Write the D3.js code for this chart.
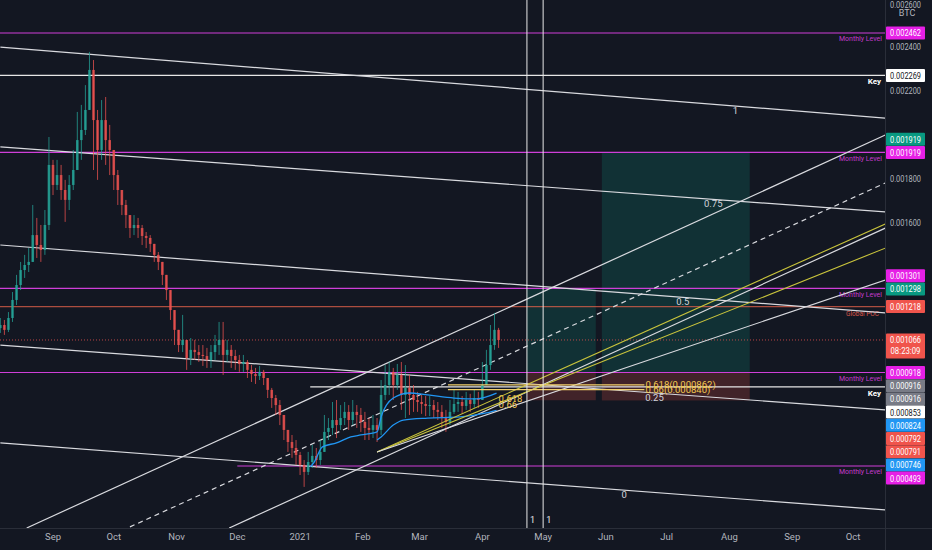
<!DOCTYPE html>
<html><head><meta charset="utf-8">
<script src="https://cdn.jsdelivr.net/npm/d3@7"></script>
<style>html,body{margin:0;padding:0;background:#131722;overflow:hidden}</style>
</head><body><svg id="c" width="932" height="550"></svg>
<script>
// ---------------- DATA (prices in micro-BTC, 1e-6 BTC) ----------------
const candleStart = "2020-08-06";          // 2-day candles
const firstOpen = 1120;
const closes = [1134,1112,1166,1248,1316,1384,1407,1421,1543,1498,
1475,1589,1862,1771,1816,1748,1703,1771,1839,1975,
2021,2112,2294,2066,1930,2066,1975,1930,1816,1748,
1680,1634,1575,1589,1575,1539,1530,1503,1453,1421,
1362,1293,1202,1112,1043,1066,984,1021,1011,998,
993,975,1011,1043,1066,998,1021,993,975,957,
966,930,911,902,921,893,839,802,770,725,
657,602,575,543,498,466,511,539,520,557,
648,666,702,679,711,739,702,739,725,693,
666,657,679,657,816,861,921,861,907,816,
848,816,793,784,775,766,770,748,739,711,
693,739,775,784,766,793,775,802,793,861,
952,1043,1112,1066];
const highs = [1166,1157,1193,1284,1362,1421,1453,1484,1680,1621,
1589,1657,1989,1885,1885,1862,1794,1816,1930,2103,
2135,2225,2376,2339,2112,2157,2171,2044,1885,1839,
1725,1703,1634,1634,1621,1589,1557,1543,1498,1466,
1421,1362,1293,1202,1089,1180,1066,1075,1066,1043,
1043,1030,1043,1089,1148,1148,1066,1043,1021,998,
998,975,952,939,948,930,893,848,816,793,
725,657,634,611,557,520,557,589,575,611,
725,711,784,793,770,784,770,793,770,757,
739,711,725,711,884,952,966,939,957,966,
952,907,861,830,816,811,811,793,784,770,
748,793,839,830,811,830,821,839,830,966,
1021,1134,1189,1121];
const lows = [1098,1089,1102,1148,1225,1293,1348,1375,1421,1439,
1421,1453,1566,1725,1748,1703,1603,1657,1748,1862,
1885,1998,2157,1839,1794,1885,1862,1816,1748,1680,
1634,1575,1530,1543,1530,1498,1484,1466,1421,1384,
1316,1248,1157,1043,1011,1011,930,952,975,966,
948,939,939,975,998,907,966,939,930,921,
921,893,875,866,884,861,802,757,725,679,
611,557,530,498,452,398,452,484,484,498,
566,611,634,620,657,679,657,679,666,648,
611,611,620,602,634,793,816,793,839,748,
711,725,739,739,730,720,720,711,702,666,
648,679,730,739,730,748,739,757,757,793,
861,930,1021,1030];

// anchored VWAP-like blue lines
const vwapUpper = [["2021-01-06",489],["2021-01-08",511],["2021-01-12",580],["2021-01-19",598],["2021-01-26",625],["2021-01-31",634],["2021-02-08",648],["2021-02-10",716],["2021-02-16",802],["2021-02-24",825],["2021-03-05",816],["2021-03-18",802],["2021-03-29",798],["2021-04-08",824]];
const vwapLower = [["2021-02-08",611],["2021-02-10",625],["2021-02-16",679],["2021-02-21",702],["2021-03-05",711],["2021-03-21",716],["2021-04-03",734],["2021-04-08",746]];

// horizontal levels
const monthlyLevels = [[2462,null],[1919,null],[1301,null],[918,null],[493,"2020-12-01"]];
const keyLevels = [[2269,null],[853,"2021-01-06"]];
const pocLevel = 1218;
const lastPrice = 1066;
const countdown = "08:23:09";

// descending fib channel
const fibChannelSpan = ["2020-08-06","2021-10-17"];
const fibChannel = [["1",2398,2075,"2021-08-04"],["0.75",1944,1648,"2021-07-24"],["0.5",1498,1189,"2021-07-09"],["0.25",1043,748,"2021-06-25"],["0",598,293,"2021-06-10"]];

// rising parallel channel [t0,p0,t1,p1,dashed]
const risingChannel = [["2020-08-19",211,"2021-10-17",1998,false],["2020-10-09",216,"2021-10-17",1780,true],["2020-11-27",211,"2021-10-17",1575,false]];

// fib fan
const fanOrigin = ["2021-02-08",557];
const fanEnds = [["2021-10-17",1594,"y"],["2021-10-17",1484,"y"],["2021-10-17",1339,"w"]];
const fanLabels = [["0.618","2021-04-09",798],["0.66","2021-04-09",771]];

// fib retracement
const fibRetrSpan = ["2021-03-15","2021-06-20"];
const fibRetr = [["0.618",862],["0.66",840]];

// long position tools [from,to,entry,target,stop]
const positions = [["2021-04-23","2021-05-27",916,1298,792],["2021-05-30","2021-08-11",916,1919,791]];

// vertical lines
const verticals = [["2021-04-23","1"],["2021-05-01","1"]];

// axis ticks
const yTicks = [2600,2400,2200,2000,1800,1600,1400,1200,1000,800,600,400];
const monthTicks = ["2020-09-01","2020-10-01","2020-11-01","2020-12-01","2021-01-01","2021-02-01","2021-03-01","2021-04-01","2021-05-01","2021-06-01","2021-07-01","2021-08-01","2021-09-01","2021-10-01"];
const monthNames = ["Sep","Oct","Nov","Dec","2021","Feb","Mar","Apr","May","Jun","Jul","Aug","Sep","Oct"];

// price-scale labels (drawing order = layout priority)
const axisLabelValues = [1066,2462,2269,1919,1919,1218,1298,1301,918,916,916,853,824,792,791,746,493];
const axisLabelKinds  = ["last","mag","white","mag","teal","red","teal","mag","mag","gray","gray","white","blue","red","red","blue","mag"];

// ---------------- DRAWING ----------------
const W=932,H=550,PR=885,PB=528;
const FONT="Roboto, 'Liberation Sans', Arial, sans-serif";
const parse=d3.timeParse("%Y-%m-%d");
const P=v=>v*1e-6;
const x=d3.scaleTime().domain([new Date(2020,8,1),new Date(2021,9,1)]).range([53,853]);
const y=d3.scaleLinear().domain([0.000211,0.002612]).range([PB,0]);
const X=t=>x(parse(t)), Y=p=>y(P(p));
const MAG_LINE="#cf3fd8", MAG="#e61fe6", TEAL="#089981", RED="#f0544c", GRAY="#787b86", BLUE="#2196f3";
const YEL="#c9c43c", GOLD="#f3c94f", WHITE="#d9dadf";

const svg=d3.select("#c");
svg.append("rect").attr("width",W).attr("height",H).attr("fill","#131722");
svg.append("defs").append("clipPath").attr("id","plot").append("rect").attr("x",0).attr("y",0).attr("width",PR).attr("height",PB);
const g=svg.append("g").attr("clip-path","url(#plot)");

function line(x1,y1,x2,y2,col,w,dash,op){
  const l=g.append("line").attr("x1",x1).attr("y1",y1).attr("x2",x2).attr("y2",y2)
   .attr("stroke",col).attr("stroke-width",w||1);
  if(dash) l.attr("stroke-dasharray",dash);
  if(op!=null) l.attr("stroke-opacity",op);
  return l;
}
function txt(par,xx,yy,s,col,size,anchor,opts){
  const t=par.append("text").attr("x",xx).attr("y",yy).text(s).attr("fill",col)
   .attr("font-size",size).attr("font-family",FONT).attr("text-anchor",anchor||"start");
  if(opts&&opts.len) t.attr("textLength",opts.len).attr("lengthAdjust","spacingAndGlyphs");
  if(opts&&opts.bold) t.attr("font-weight","bold");
  return t;
}

// position tools
positions.forEach(([f,t,e,tp,sl])=>{
  const x0=X(f),x1=X(t);
  g.append("rect").attr("x",x0).attr("width",x1-x0).attr("y",Y(tp)).attr("height",Y(e)-Y(tp)).attr("fill","rgba(8,153,129,0.2)");
  g.append("rect").attr("x",x0).attr("width",x1-x0).attr("y",Y(e)).attr("height",Y(sl)-Y(e)).attr("fill","rgba(230,80,70,0.22)");
});

// horizontal levels
monthlyLevels.forEach(([p,from])=>{
  line(from?X(from):0,Y(p),PR,Y(p),MAG_LINE,1.2);
  txt(g,882,Y(p)+8.5,"Monthly Level","#c33bcc",8,"end",{len:43});
});
keyLevels.forEach(([p,from])=>{
  line(from?X(from):0,Y(p),PR,Y(p),"#e6e6e6",1.2);
  txt(g,881,Y(p)+9,"Key","#ffffff",8,"end",{bold:true});
});
line(0,Y(pocLevel),PR,Y(pocLevel),"#e0604a",1.2,null,0.75);
txt(g,879,Y(pocLevel)+9,"Global POC","#d9564a",8,"end",{len:33});
line(0,Y(lastPrice),PR,Y(lastPrice),"#e8504f",1,"1,2",0.8);

// descending fib channel
const cx0=X(fibChannelSpan[0]), cx1=X(fibChannelSpan[1]);
fibChannel.forEach(([lv,p0,p1,lab])=>{
  const y0=Y(p0),y1=Y(p1);
  line(cx0,y0,cx1,y1,WHITE,1.2);
  const xl=X(lab), yl=y0+(y1-y0)*(xl-cx0)/(cx1-cx0);
  txt(g,xl,yl+8,lv,"#d1d4dc",9.5,"middle");
});

// rising channel
risingChannel.forEach(([t0,p0,t1,p1,d])=>{
  line(X(t0),Y(p0),X(t1),Y(p1),WHITE,1.2,d?"5,4":null);
});

// candles
const t0=parse(candleStart);
const candles=closes.map((c,i)=>{
  const o=i?closes[i-1]:firstOpen;
  return {t:d3.timeDay.offset(t0,2*i),o,c,h:Math.max(highs[i],o,c),l:Math.min(lows[i],o,c)};
});
const cg=g.append("g");
candles.forEach(d=>{
  const col=d.c>=d.o?"#26a69a":"#ef5350";
  const cx=x(d.t);
  cg.append("line").attr("x1",cx).attr("x2",cx).attr("y1",Y(d.h)).attr("y2",Y(d.l)).attr("stroke",col).attr("stroke-width",1).attr("stroke-opacity",0.75);
  const yt=Math.min(Y(d.o),Y(d.c)), hb=Math.max(1,Math.abs(Y(d.o)-Y(d.c)));
  cg.append("rect").attr("x",cx-1.3).attr("width",2.6).attr("y",yt).attr("height",hb).attr("fill",col).attr("fill-opacity",0.8);
});

// blue lines
const lg=d3.line().x(d=>X(d[0])).y(d=>Y(d[1])).curve(d3.curveMonotoneX);
[vwapUpper,vwapLower].forEach(a=>g.append("path").attr("d",lg(a)).attr("fill","none").attr("stroke",BLUE).attr("stroke-width",1.3));

// fib fan
fanEnds.forEach(([t,p,c])=>line(X(fanOrigin[0]),Y(fanOrigin[1]),X(t),Y(p),c==="y"?YEL:WHITE,1.1));
fanLabels.forEach(([r,t,p])=>txt(g,X(t),Y(p)+3,r,GOLD,9.5,"start"));

// fib retracement
fibRetr.forEach(([r,p])=>{
  line(X(fibRetrSpan[0]),Y(p),X(fibRetrSpan[1]),Y(p),"#f2d06b",1.2);
  txt(g,X(fibRetrSpan[1])+1,Y(p)+3.5,r+"("+d3.format(".6f")(P(p))+")",GOLD,9.5,"start");
});

// vertical lines
verticals.forEach(([t,s])=>{
  line(X(t),0,X(t),PB,"#e8e8e8",1);
  txt(g,X(t)+3,PB-5,s,"#e8e8e8",9,"start");
});

// ---------------- AXES ----------------
svg.append("line").attr("x1",PR+0.5).attr("x2",PR+0.5).attr("y1",0).attr("y2",H).attr("stroke","#2a2e39");
svg.append("line").attr("x1",0).attr("x2",W).attr("y1",PB+0.5).attr("y2",PB+0.5).attr("stroke","#2a2e39");
const ax=svg.append("g");
txt(ax,907,16,"BTC","#b2b5be",9,"middle");
monthTicks.forEach((m,i)=>txt(ax,X(m),540,monthNames[i],"#b2b5be",9.5,"middle"));

// price labels with collision layout
const kindStyle={mag:[MAG,"#fff"],white:["#ffffff","#131722"],teal:[TEAL,"#fff"],red:[RED,"#fff"],gray:[GRAY,"#fff"],blue:[BLUE,"#fff"],last:[RED,"#fff"]};
const placed=[];
axisLabelValues.forEach((v,i)=>{
  const kind=axisLabelKinds[i], ny=Y(v);
  const top=6.5, bot=kind==="last"?18.5:6.5, gap=0.2;
  const cands=[ny];
  placed.forEach(q=>{cands.push(q.y-q.top-gap-bot); cands.push(q.y+q.bot+gap+top);});
  const ok=c=>placed.every(q=>c+bot<=q.y-q.top+0.01||c-top>=q.y+q.bot-0.01);
  cands.sort((a,b)=>(Math.round(Math.abs(a-ny)*100)-Math.round(Math.abs(b-ny)*100))||(a-b));
  const cy=cands.find(ok);
  placed.push({y:cy,top,bot,kind,v});
});
// tick labels that are hidden behind a price label are skipped
yTicks.forEach(v=>{
  const ty=Y(v);
  const covered=placed.some(q=>ty+4>q.y-q.top && ty-4<q.y+q.bot);
  if(!covered) txt(ax,905.5,Math.max(ty+3.4,8),d3.format(".6f")(P(v)),"#b2b5be",9.5,"middle",{len:31});
});
placed.forEach(q=>{
  const [bg,fg]=kindStyle[q.kind];
  ax.append("rect").attr("x",886).attr("y",q.y-q.top).attr("width",39).attr("height",q.top+q.bot).attr("fill",bg).attr("rx",1);
  txt(ax,905.5,q.y+3.4,d3.format(".6f")(P(q.v)),fg,9.5,"middle",{len:31});
  if(q.kind==="last") txt(ax,905.5,q.y+13.6,countdown,fg,9.5,"middle",{len:30});
});
</script></body></html>
